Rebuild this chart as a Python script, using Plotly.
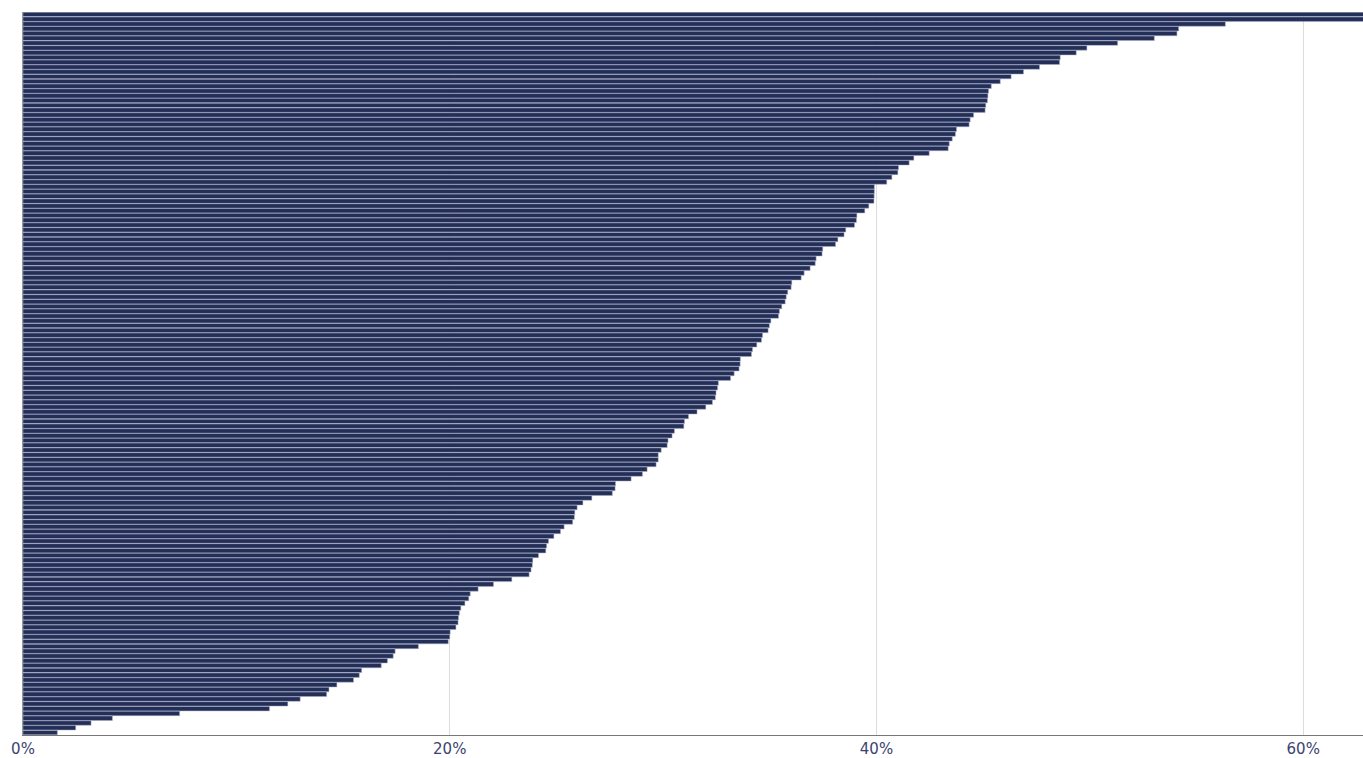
import plotly.graph_objects as go

# share values (%), sorted from largest to smallest
shares = [
    71.3, 64.9, 56.35, 54.16, 54.08, 53.02, 51.3, 49.86, 49.36, 48.61,
    48.58, 47.64, 46.89, 46.31, 45.8, 45.38, 45.25, 45.22, 45.2, 45.12,
    45.09, 44.55, 44.39, 44.34, 43.75, 43.7, 43.55, 43.41, 43.36, 42.47,
    41.75, 41.53, 41.03, 41.0, 40.72, 40.48, 39.9, 39.9, 39.89, 39.88,
    39.64, 39.45, 39.08, 39.06, 38.97, 38.56, 38.48, 38.19, 38.08, 37.48,
    37.45, 37.17, 37.13, 36.89, 36.61, 36.47, 36.03, 36.0, 35.84, 35.77,
    35.72, 35.56, 35.45, 35.41, 35.05, 34.98, 34.92, 34.66, 34.61, 34.39,
    34.19, 34.14, 33.62, 33.61, 33.56, 33.33, 33.16, 32.59, 32.55, 32.48,
    32.45, 32.31, 32.0, 31.59, 31.19, 31.0, 30.97, 30.53, 30.42, 30.23,
    30.19, 29.91, 29.77, 29.77, 29.67, 29.25, 29.03, 28.5, 27.77, 27.75,
    27.62, 26.66, 26.24, 25.97, 25.86, 25.84, 25.76, 25.36, 25.19, 24.88,
    24.63, 24.54, 24.5, 24.16, 23.89, 23.87, 23.81, 23.72, 22.91, 22.05,
    21.33, 20.96, 20.89, 20.71, 20.52, 20.45, 20.41, 20.39, 20.29, 20.02,
    20.0, 19.93, 18.53, 17.44, 17.35, 17.08, 16.79, 15.87, 15.76, 15.49,
    14.71, 14.34, 14.23, 12.99, 12.41, 11.55, 7.34, 4.19, 3.19, 2.47,
    1.61,
]
rows = list(range(len(shares)))

x_ticks = [0, 20, 40, 60]
x_tick_labels = ["0%", "20%", "40%", "60%"]

bar_color = "#242f58"
text_color = "#3b4470"

fig = go.Figure()

fig.add_trace(go.Bar(
    x=shares,
    y=rows,
    orientation="h",
    marker=dict(color=bar_color, line=dict(color="#aab0cc", width=0.5)),
    hoverinfo="x",
))

fig.update_layout(
    width=1363,
    height=758,
    margin=dict(l=23, r=0, t=12, b=17),
    paper_bgcolor="white",
    plot_bgcolor="white",
    bargap=0.07,
    showlegend=False,
    font=dict(family="DejaVu Sans", color=text_color, size=15),
)

fig.update_xaxes(
    range=[0, 62.8],
    tickmode="array",
    tickvals=x_ticks,
    ticktext=x_tick_labels,
    showgrid=True,
    gridcolor="#dcdcdc",
    gridwidth=1,
    zeroline=False,
    showline=True,
    linecolor="#777777",
    linewidth=1,
    ticks="",
)

fig.update_yaxes(
    autorange="reversed",
    showticklabels=False,
    showgrid=False,
    zeroline=False,
    showline=True,
    linecolor="#999999",
    linewidth=1,
    ticks="",
)

# drop the browser's default body margin so the figure sits at the page corner
fig.write_html(
    "out.html",
    config={"displayModeBar": False},
    post_script="document.body.style.margin='0';",
)
